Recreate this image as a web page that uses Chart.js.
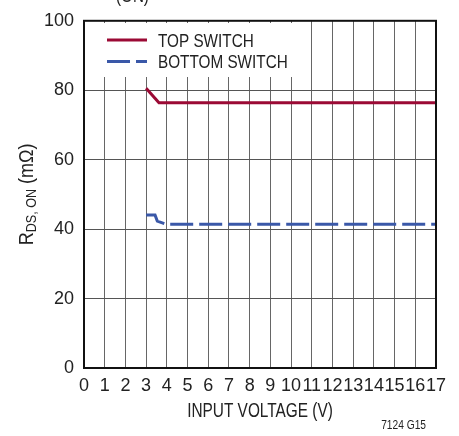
<!DOCTYPE html>
<html><head><meta charset="utf-8">
<script src="https://cdn.jsdelivr.net/npm/chart.js@4.4.1/dist/chart.umd.min.js"></script>
<style>html,body{margin:0;padding:0;background:#fff;}canvas{display:block;}</style>
</head><body>
<canvas id="c" width="459" height="436"></canvas>
<script>
const xTickValues = [0,1,2,3,4,5,6,7,8,9,10,11,12,13,14,15,16,17];
const yTickValues = [0,20,40,60,80,100];
const seriesNames = ['TOP SWITCH','BOTTOM SWITCH'];
const topVoltage = [3, 3.62, 17];
const topRds = [80.6, 76.4, 76.4];
const bottomVoltage = [3, 3.43, 3.54, 3.96, 17];
const bottomRds = [44.1, 44.1, 42.3, 41.4, 41.4];

const FONT = '"Liberation Sans", Arial, sans-serif';
const TOP_COLOR = '#9b0a35';
const BOT_COLOR = '#3a58a8';
const BOT_DASH = [23, 6];

function pts(xs, ys){ return xs.map((x,i)=>({x:x, y:ys[i]})); }

// draw condensed text (horizontal squeeze) at x,y
function cText(ctx, txt, x, y, size, sx, align){
  ctx.save();
  ctx.font = size + 'px ' + FONT;
  const w = ctx.measureText(txt).width * sx;
  let x0 = x;
  if (align === 'center') x0 = x - w/2;
  else if (align === 'right') x0 = x - w;
  ctx.translate(x0, y);
  ctx.scale(sx, 1);
  ctx.textAlign = 'left';
  ctx.fillText(txt, 0, 0);
  ctx.restore();
  return w;
}

const decor = {
  id:'decor',
  beforeDatasetsDraw(chart){
    const ctx = chart.ctx, a = chart.chartArea;
    ctx.save();
    ctx.fillStyle = '#fff';
    ctx.fillRect(a.left+2, 23, 214, 54);
    ctx.textBaseline = 'middle';
    ctx.fillStyle = '#222';
    ctx.lineWidth = 3;
    ctx.strokeStyle = TOP_COLOR;
    ctx.setLineDash([]);
    ctx.beginPath(); ctx.moveTo(107, 40); ctx.lineTo(147, 40); ctx.stroke();
    cText(ctx, seriesNames[0], 158, 42, 19, 0.805, 'left');
    ctx.strokeStyle = BOT_COLOR;
    ctx.setLineDash(BOT_DASH);
    ctx.beginPath(); ctx.moveTo(107, 61.5); ctx.lineTo(147, 61.5); ctx.stroke();
    ctx.setLineDash([]);
    cText(ctx, seriesNames[1], 158, 63, 19, 0.805, 'left');
    ctx.restore();
  },
  afterDraw(chart){
    const ctx = chart.ctx, a = chart.chartArea;
    ctx.save();
    ctx.strokeStyle = '#111';
    ctx.lineWidth = 2;
    ctx.strokeRect(a.left, a.top, a.right-a.left, a.bottom-a.top);
    ctx.fillStyle = '#222';
    ctx.textBaseline = 'middle';
    cText(ctx, 'INPUT VOLTAGE (V)', (a.left+a.right)/2, 411, 20, 0.77, 'center');
    cText(ctx, '7124 G15', 426, 426, 12, 0.85, 'right');
    ctx.textBaseline = 'alphabetic';
    cText(ctx, '(ON)', 116, 2, 19, 0.8, 'left');
    // y title with subscript
    ctx.translate(33, (a.top+a.bottom)/2);
    ctx.rotate(-Math.PI/2);
    const sx = 0.9;
    ctx.font = '20px ' + FONT; const wR = ctx.measureText('R').width*sx;
    ctx.font = '14px ' + FONT; const wS = ctx.measureText('DS, ON').width*sx;
    ctx.font = '20px ' + FONT; const wT = ctx.measureText(' (mΩ)').width*sx;
    let x = -(wR+wS+wT)/2;
    x += cText(ctx, 'R', x, 0, 20, sx, 'left');
    x += cText(ctx, 'DS, ON', x, 3, 14, sx, 'left');
    cText(ctx, ' (mΩ)', x, 0, 20, sx, 'left');
    ctx.restore();
  }
};

new Chart(document.getElementById('c'), {
  type: 'line',
  data: {
    datasets: [
      { label: seriesNames[0], data: pts(topVoltage, topRds), borderColor: TOP_COLOR, borderWidth: 3, pointRadius: 0, tension: 0, fill: false },
      { label: seriesNames[1], data: pts(bottomVoltage, bottomRds), borderColor: BOT_COLOR, borderWidth: 3, borderDash: BOT_DASH, pointRadius: 0, tension: 0, fill: false }
    ]
  },
  options: {
    responsive: false,
    animation: false,
    events: [],
    layout: { padding: { left: 0, top: 16, right: 23, bottom: 0 } },
    plugins: { legend: { display: false }, tooltip: { enabled: false }, title: { display: false } },
    scales: {
      x: {
        type: 'linear', min: 0, max: 17,
        afterBuildTicks: s => { s.ticks = xTickValues.map(v => ({value: v})); },
        afterFit: s => { s.height = 68; },
        grid: { color: '#666', lineWidth: 1, drawTicks: false },
        border: { display: false },
        ticks: { color: '#222', font: { family: FONT, size: 18 }, padding: 7, maxRotation: 0, autoSkip: false }
      },
      y: {
        type: 'linear', min: 0, max: 100,
        afterBuildTicks: s => { s.ticks = yTickValues.map(v => ({value: v})); },
        afterFit: s => { s.width = 84; },
        grid: { color: '#555', lineWidth: 1, drawTicks: false },
        border: { display: false },
        ticks: { color: '#222', font: { family: FONT, size: 18 }, padding: 10 }
      }
    }
  },
  plugins: [decor]
});
</script>
</body></html>
